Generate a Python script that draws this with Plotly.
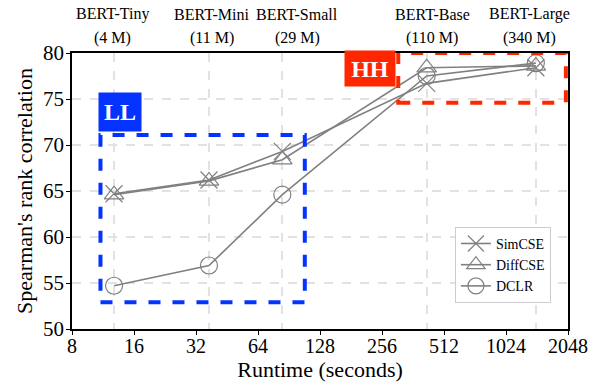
import math
import plotly.graph_objects as go

models = ["BERT-Tiny", "BERT-Mini", "BERT-Small", "BERT-Base", "BERT-Large"]
params = ["(4 M)", "(11 M)", "(29 M)", "(110 M)", "(340 M)"]
runtime = [12.8, 37.0, 84.0, 422.0, 1430.0]
# horizontal centres of the model labels above the plot (fraction of plot width)
label_pos = [0.081, 0.282, 0.454, 0.726, 0.923]

simcse = [64.7, 66.2, 69.3, 76.7, 78.4]
diffcse = [64.6, 66.1, 68.4, 78.4, 78.6]
dclr = [54.7, 56.9, 64.6, 77.5, 78.9]

x_ticks = [8, 16, 32, 64, 128, 256, 512, 1024, 2048]
y_ticks = [50, 55, 60, 65, 70, 75, 80]

FONT = "Liberation Serif"
GRAY = "#808080"
BLUE = "#0433ff"
RED = "#ff2600"

fig = go.Figure()

series = [("SimCSE", simcse, "x-thin"), ("DiffCSE", diffcse, "triangle-up-open"), ("DCLR", dclr, "circle-open")]
for name, vals, sym in series:
    fig.add_trace(go.Scatter(
        x=runtime, y=vals, name=name, mode="lines+markers",
        line=dict(color=GRAY, width=1.6),
        marker=dict(symbol=sym, size=17, color=GRAY, line=dict(color=GRAY, width=1.2)),
    ))

# invisible trace for top axis (vertical grid at model runtimes)
fig.add_trace(go.Scatter(x=runtime, y=dclr, xaxis="x2", mode="markers",
                         marker=dict(opacity=0), showlegend=False, hoverinfo="skip"))

# rectangles
fig.add_shape(type="rect", xref="x", yref="y", x0=11.0, x1=108.0, y0=52.9, y1=71.1,
              line=dict(color=BLUE, width=4, dash="dash"), layer="above")
fig.add_shape(type="rect", xref="x", yref="y", x0=307.0, x1=2000.0, y0=74.6, y1=80.0,
              line=dict(color=RED, width=4, dash="dash"), layer="above")

fig.add_annotation(x=math.log10(13.7), y=73.6, xref="x", yref="y", text="<b>LL</b>",
                   showarrow=False, bgcolor=BLUE, width=40, height=36,
                   font=dict(family=FONT, size=24, color="white"))
fig.add_annotation(x=math.log10(224), y=78.3, xref="x", yref="y", text="<b>HH</b>",
                   showarrow=False, bgcolor=RED, width=48, height=33,
                   font=dict(family=FONT, size=24, color="white"))

for m, p, px in zip(models, params, label_pos):
    fig.add_annotation(x=px, y=1.141, xref="paper", yref="paper", text=m,
                       showarrow=False, xanchor="center", yanchor="middle",
                       font=dict(family=FONT, size=16, color="black"))
    fig.add_annotation(x=px, y=1.056, xref="paper", yref="paper", text=p,
                       showarrow=False, xanchor="center", yanchor="middle",
                       font=dict(family=FONT, size=16, color="black"))

fig.update_layout(
    width=601, height=389,
    margin=dict(l=72, r=33, t=53, b=60),
    plot_bgcolor="white", paper_bgcolor="white",
    font=dict(family=FONT, size=16, color="black"),
    xaxis=dict(
        type="log", range=[math.log10(8), math.log10(2048)],
        tickvals=x_ticks, ticktext=[str(v) for v in x_ticks],
        showgrid=False, zeroline=False, automargin=False,
        showline=True, linecolor="black", linewidth=1.5, mirror=True,
        ticks="outside", ticklen=4, tickcolor="black",
        title=dict(text="Runtime (seconds)", font=dict(size=22), standoff=0),
        tickfont=dict(size=20), ticklabelstandoff=-6,
    ),
    xaxis2=dict(
        type="log", range=[math.log10(8), math.log10(2048)],
        overlaying="x", side="top", anchor="y", automargin=False,
        tickvals=runtime, showticklabels=False,
        showgrid=True, gridcolor="#e2e2e2", gridwidth=2, griddash="dash",
        ticks="", showline=False, zeroline=False,
    ),
    yaxis=dict(
        range=[50, 80], tickvals=y_ticks,
        showgrid=True, gridcolor="#e2e2e2", gridwidth=2, griddash="dash",
        zeroline=False, automargin=False,
        showline=True, linecolor="black", linewidth=1.5, mirror=True,
        ticks="outside", ticklen=4, tickcolor="black",
        title=dict(text="Spearman's rank correlation", font=dict(size=22), standoff=4),
        tickfont=dict(size=21), ticklabelstandoff=-2,
    ),
    legend=dict(
        x=0.772, y=0.37, xanchor="left", yanchor="top",
        bgcolor="white", bordercolor="#cccccc", borderwidth=1,
        font=dict(size=14), tracegroupgap=0, itemwidth=30,
    ),
    showlegend=True,
)

fig.write_html("out.html", config={"displayModeBar": False},
               post_script="document.body.style.margin='0px';")
